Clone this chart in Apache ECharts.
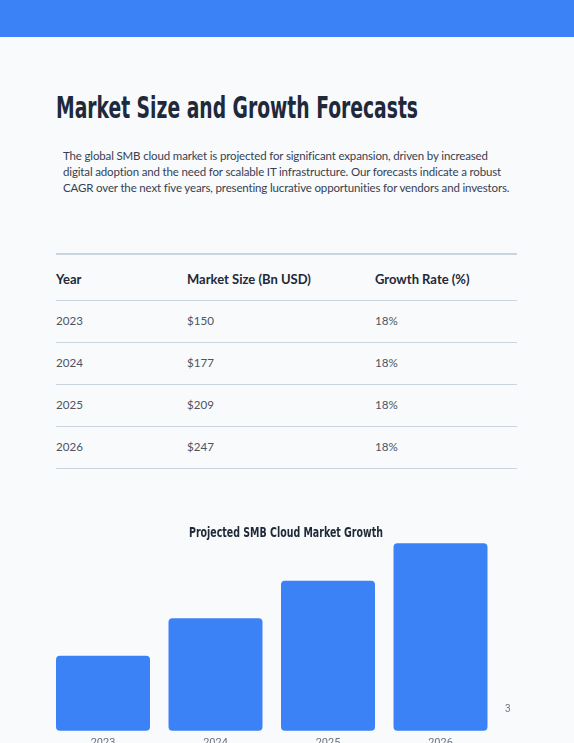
<!DOCTYPE html>
<html>
<head>
<meta charset="utf-8">
<script src="https://cdn.jsdelivr.net/npm/echarts@6/dist/echarts.min.js"></script>
<style>
  html, body { margin:0; padding:0; width:574px; height:743px; overflow:hidden; background:#f8fafc; }
  #topbar { position:absolute; left:0; top:0; width:574px; height:37px; background:#3b82f6; }
  #title { position:absolute; left:56px; top:89px; font-family:"Liberation Sans Narrow","DejaVu Sans Condensed","Roboto",sans-serif; font-weight:bold; font-size:30px; color:#1e293b; white-space:nowrap; transform-origin:left top; line-height:38px; }
  #intro { position:absolute; left:63px; top:148px; font-family:Lato,sans-serif; font-size:11.5px; letter-spacing:-0.15px; line-height:16px; color:#374151; margin:0; white-space:nowrap; }
  #tbl { position:absolute; left:56px; top:253px; width:461px; border-collapse:collapse; font-family:Lato,sans-serif; border-top:2px solid #cbd5e1; }
  #tbl th { text-align:left; font-weight:bold; font-size:13px; color:#1f2937; height:42px; padding:3px 0 0 0; border-bottom:1px solid #cbd5e1; }
  #tbl td { font-size:11.6px; color:#4b5563; height:39px; padding:0 0 2px 0; border-bottom:1px solid #cbd5e1; }
  #chart { position:absolute; left:0; top:515px; width:574px; height:250px; }
  #pagenum { position:absolute; left:505px; top:703px; font-family:Roboto,sans-serif; font-size:10px; color:#6b7280; }
</style>
</head>
<body>
<div id="topbar"></div>
<div id="title">Market Size and Growth Forecasts</div>
<p id="intro">The global SMB cloud market is projected for significant expansion, driven by increased<br>digital adoption and the need for scalable IT infrastructure. Our forecasts indicate a robust<br>CAGR over the next five years, presenting lucrative opportunities for vendors and investors.</p>
<table id="tbl"><thead><tr id="hdr"></tr></thead><tbody id="tbody"></tbody></table>
<div id="chart"></div>
<div id="pagenum">3</div>
<script>
// ---- data ----
var tableHeaders = ["Year", "Market Size (Bn USD)", "Growth Rate (%)"];
var tableYears = ["2023", "2024", "2025", "2026"];
var tableMarketSize = ["$150", "$177", "$209", "$247"];
var tableGrowth = ["18%", "18%", "18%", "18%"];

var chartTitle = "Projected SMB Cloud Market Growth";
var chartYears = ["2023", "2024", "2025", "2026"];
var chartValues = [150, 225, 300, 375];

// ---- title width fit ----
(function(){
  var t = document.getElementById('title');
  var w = t.getBoundingClientRect().width;
  var target = 362;
  t.style.transform = 'scaleX(' + (target / w) + ')';
})();

// ---- table ----
var colW = [131, 188, 142];
var hdr = document.getElementById('hdr');
tableHeaders.forEach(function(h, i){
  var th = document.createElement('th'); th.textContent = h; th.style.width = colW[i] + 'px'; hdr.appendChild(th);
});
var tb = document.getElementById('tbody');
tableYears.forEach(function(y, i){
  var tr = document.createElement('tr');
  [y, tableMarketSize[i], tableGrowth[i]].forEach(function(v){
    var td = document.createElement('td'); td.textContent = v; tr.appendChild(td);
  });
  tb.appendChild(tr);
});

// ---- chart ----
var titleFont = 'bold 14px "Liberation Sans Narrow","DejaVu Sans Condensed",sans-serif';
var cv = document.createElement('canvas').getContext('2d');
cv.font = titleFont;
var titleW = cv.measureText(chartTitle).width;
var titleScale = 194 / titleW;

var chart = echarts.init(document.getElementById('chart'), null, {renderer:'canvas'});
chart.setOption({
  animation: false,
  backgroundColor: 'transparent',
  graphic: [{
    type: 'text',
    x: 286, y: 18,
    scaleX: titleScale,
    style: {
      text: chartTitle,
      font: titleFont,
      fill: '#1f2937',
      textAlign: 'center',
      textVerticalAlign: 'middle'
    }
  }],
  grid: { left: 46.75, right: 77.25, top: 15.7, bottom: 34.3, containLabel: false },
  xAxis: {
    type: 'category',
    data: chartYears,
    axisLine: { show: false },
    axisTick: { show: false },
    axisLabel: { color: '#6b7280', fontSize: 11, fontFamily: 'Roboto, sans-serif', margin: 7 }
  },
  yAxis: {
    type: 'value', min: 0, max: 400, show: false,
    splitLine: { show: false }
  },
  series: [{
    type: 'bar',
    data: chartValues,
    barWidth: 94,
    z: 1,
    itemStyle: { color: '#3b82f6', borderRadius: 4 }
  }]
});
</script>
</body>
</html>
